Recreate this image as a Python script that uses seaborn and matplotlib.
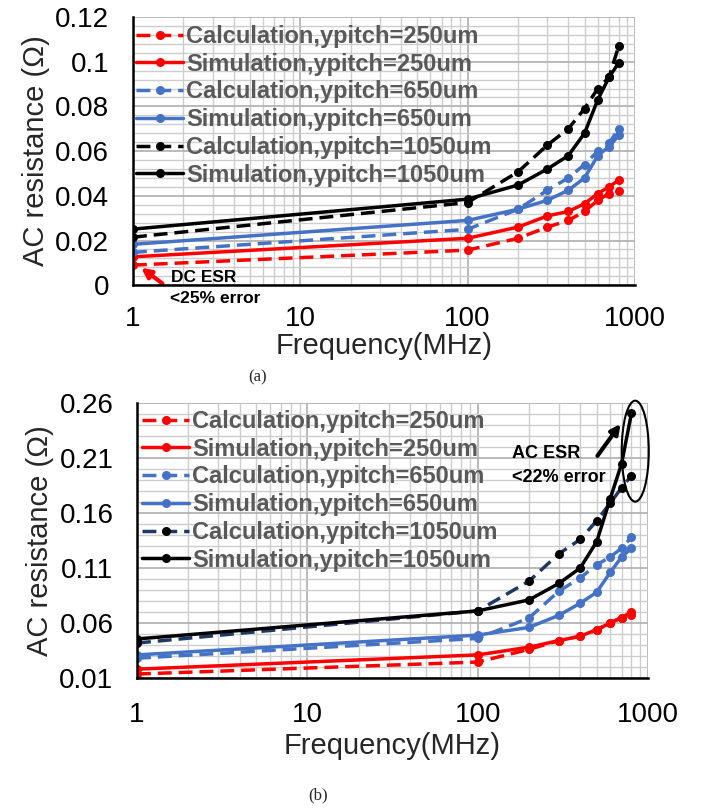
import matplotlib
matplotlib.use("Agg")
import matplotlib.pyplot as plt
from matplotlib.patches import Ellipse
from matplotlib.ticker import FixedLocator, NullFormatter
import seaborn as sns
import numpy as np

sns.set_style("white")
plt.rcParams["font.family"] = ["Liberation Sans", "DejaVu Sans"]

# Frequency points (MHz)
freq = [1, 100, 200, 300, 400, 500, 600, 700, 800]

# (a) AC resistance (Ohm)
calc250_a = [0.009, 0.0157, 0.021, 0.026, 0.029, 0.033, 0.038, 0.041, 0.042]
sim250_a = [0.0127, 0.021, 0.026, 0.031, 0.033, 0.0365, 0.041, 0.044, 0.047]
calc650_a = [0.0147, 0.025, 0.034, 0.0425, 0.048, 0.054, 0.060, 0.0635, 0.070]
sim650_a = [0.0183, 0.029, 0.034, 0.038, 0.0425, 0.048, 0.058, 0.062, 0.067]
calc1050_a = [0.0215, 0.037, 0.0507, 0.0627, 0.070, 0.079, 0.088, 0.093, 0.107]
sim1050_a = [0.0251, 0.0385, 0.0448, 0.052, 0.058, 0.068, 0.083, 0.093, 0.0995]

# (b) AC resistance (Ohm)
calc250_b = [0.0136, 0.0245, 0.036, 0.044, 0.048, 0.0536, 0.060, 0.065, 0.067]
sim250_b = [0.018, 0.031, 0.038, 0.044, 0.048, 0.054, 0.060, 0.065, 0.070]
calc650_b = [0.028, 0.046, 0.0645, 0.089, 0.101, 0.113, 0.120, 0.128, 0.138]
sim650_b = [0.031, 0.049, 0.056, 0.067, 0.078, 0.088, 0.106, 0.120, 0.128]
calc1050_b = [0.0418, 0.071, 0.098, 0.123, 0.136, 0.153, 0.169, 0.183, 0.194]
sim1050_b = [0.0455, 0.071, 0.081, 0.096, 0.110, 0.134, 0.173, 0.205, 0.251]

labels = ["Calculation,ypitch=250um", "Simulation,ypitch=250um",
          "Calculation,ypitch=650um", "Simulation,ypitch=650um",
          "Calculation,ypitch=1050um", "Simulation,ypitch=1050um"]

xticks = [1, 10, 100, 1000]
xtick_labels = ["1", "10", "100", "1000"]
yticks_a = [0, 0.02, 0.04, 0.06, 0.08, 0.1, 0.12]
ytick_labels_a = ["0", "0.02", "0.04", "0.06", "0.08", "0.1", "0.12"]
yticks_b = [0.01, 0.06, 0.11, 0.16, 0.21, 0.26]
ytick_labels_b = ["0.01", "0.06", "0.11", "0.16", "0.21", "0.26"]

RED = "#FF0000"
BLUE = "#4472C4"
BLACK = "#000000"
NAVY = "#203864"
DASH = (0, (4, 2))
LW = 2.5
MS = 6.5

fig = plt.figure(figsize=(7.11, 8.08), dpi=100)
ax_a = fig.add_axes([0.187, 0.647, 0.706, 0.332])
ax_b = fig.add_axes([0.1927, 0.1609, 0.7187, 0.3403])


def draw_series(ax, y, color, ls, label, mcolor=None):
    mc = mcolor if mcolor is not None else color
    sns.lineplot(x=freq, y=y, ax=ax, color=color, linestyle=ls, linewidth=LW,
                 marker="o", markersize=MS, markerfacecolor=mc,
                 markeredgecolor=mc, markeredgewidth=0, label=label,
                 legend=False, sort=False)


def style_axes(ax, ylim, yticks, ytick_labels, minor_step, xpad, xlabelpad):
    ax.set_xscale("log")
    ax.set_xlim(1, 1000)
    ax.set_ylim(*ylim)
    ax.set_xticks(xticks)
    ax.set_xticklabels(xtick_labels)
    minor_x = [m * 10 ** d for d in range(3) for m in range(2, 10)]
    ax.xaxis.set_minor_locator(FixedLocator(minor_x))
    ax.xaxis.set_minor_formatter(NullFormatter())
    ax.set_yticks(yticks)
    ax.set_yticklabels(ytick_labels)
    ax.yaxis.set_minor_locator(FixedLocator(np.arange(ylim[0], ylim[1] + 1e-9, minor_step)))
    ax.grid(True, which="major", color="#B4B4B4", linewidth=1.3)
    ax.grid(True, which="minor", color="#CDCDCD", linewidth=1.0)
    ax.set_axisbelow(True)
    for s in ["top", "right"]:
        ax.spines[s].set_visible(False)
    for s in ["left", "bottom"]:
        ax.spines[s].set_color("black")
        ax.spines[s].set_linewidth(1.8)
        ax.spines[s].set_zorder(5)
    ax.tick_params(axis="y", which="both", length=0, labelsize=20, pad=17,
                   colors="black")
    ax.tick_params(axis="x", which="both", length=0, labelsize=20, pad=xpad,
                   colors="black")
    ax.set_xlabel("Frequency(MHz)", fontsize=21, labelpad=xlabelpad)
    ax.set_ylabel("AC resistance (Ω)", fontsize=21, labelpad=4)
    for t in ax.get_xticklabels() + ax.get_yticklabels():
        t.set_clip_on(False)


def add_legend(ax, anchor):
    leg = ax.legend(loc="upper left", bbox_to_anchor=anchor, frameon=False,
                    borderpad=0, borderaxespad=0, handlelength=2.0,
                    handletextpad=0.12, labelspacing=0.2,
                    prop={"weight": "bold", "size": 17})
    for t in leg.get_texts():
        t.set_color("#595959")
    return leg


# ---- (a) ----
draw_series(ax_a, calc250_a, RED, DASH, labels[0])
draw_series(ax_a, sim250_a, RED, "-", labels[1])
draw_series(ax_a, calc650_a, BLUE, DASH, labels[2])
draw_series(ax_a, sim650_a, BLUE, "-", labels[3])
draw_series(ax_a, calc1050_a, BLACK, DASH, labels[4])
draw_series(ax_a, sim1050_a, BLACK, "-", labels[5])
style_axes(ax_a, (0, 0.12), yticks_a, ytick_labels_a, 0.004, 15, 0)
add_legend(ax_a, (0.006, 0.97))

ax_a.annotate("", xy=(1.12, 0.0078), xytext=(1.5, 0.0008),
              arrowprops=dict(arrowstyle="-|>", color=RED, lw=3,
                              mutation_scale=14, shrinkA=0, shrinkB=0),
              annotation_clip=False)
ax_a.text(1.69, 0.0036, "DC ESR", fontsize=12.5, fontweight="bold",
          color="black", ha="left", va="center")
ax_a.text(1.67, -0.0058, "<25% error", fontsize=12.5, fontweight="bold",
          color="black", ha="left", va="center", clip_on=False)

# ---- (b) ----
draw_series(ax_b, calc250_b, RED, DASH, labels[0])
draw_series(ax_b, sim250_b, RED, "-", labels[1])
draw_series(ax_b, calc650_b, BLUE, DASH, labels[2])
draw_series(ax_b, sim650_b, BLUE, "-", labels[3])
draw_series(ax_b, calc1050_b, NAVY, DASH, labels[4], mcolor=BLACK)
draw_series(ax_b, sim1050_b, BLACK, "-", labels[5])
style_axes(ax_b, (0.01, 0.26), yticks_b, ytick_labels_b, 0.01, 17, 3)
add_legend(ax_b, (0.01, 0.975))

ax_b.text(159, 0.2145, "AC ESR", fontsize=13, fontweight="bold",
          color="black", ha="left", va="center")
ax_b.text(159, 0.1927, "<22% error", fontsize=13, fontweight="bold",
          color="black", ha="left", va="center")
ax_b.annotate("", xy=(690, 0.241), xytext=(505, 0.212),
              arrowprops=dict(arrowstyle="-|>", color="black", lw=3,
                              mutation_scale=14, shrinkA=0, shrinkB=0))
ax_b.add_patch(Ellipse((0.975, 0.825), 0.053, 0.367, transform=ax_b.transAxes,
                       fill=False, edgecolor="black", linewidth=1.5,
                       clip_on=False, zorder=6))

fig.text(258 / 711, 1 - 377 / 808, "(a)", fontsize=12, family="Liberation Serif",
         ha="center", va="center")
fig.text(318 / 711, 1 - 795 / 808, "(b)", fontsize=12, family="Liberation Serif",
         ha="center", va="center")

fig.savefig("out.png", dpi=100)
